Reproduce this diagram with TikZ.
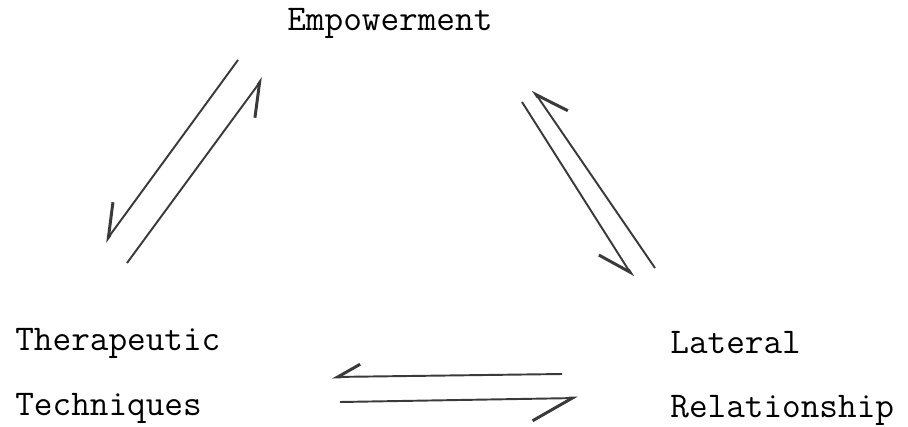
\documentclass[tikz,border=0pt]{standalone}
\usepackage{fontspec}
\usetikzlibrary{arrows.meta}
\definecolor{ink}{HTML}{3A3A3A}

\begin{document}
\begin{tikzpicture}[x=0.02cm, y=-0.02cm,
  label/.style={font=\ttfamily\fontsize{20.6}{24}\selectfont\addfontfeatures{FakeBold=0.8}, inner sep=0pt, anchor=base west},
  harp/.style={-{Straight Barb[right, length=#1, width=1.1*#1, line width=1.7pt]}, line width=1.1pt, color=ink},
  harp/.default=0.62cm]
\useasboundingbox (0,0) rectangle (908,426);
% concepts
\node[label] (emp) at (287,31) {Empowerment};
\node[label] (ther) at (15,350) {Therapeutic};
\node[label] (tech) at (15,415) {Techniques};
\node[label] (lat) at (670,353) {Lateral};
\node[label] (rel) at (670,417) {Relationship};
% ends of the arrows
\coordinate (a1) at (238,60);  \coordinate (b1) at (105,242);
\coordinate (a2) at (127,263); \coordinate (b2) at (263,78);
\coordinate (a3) at (522,102); \coordinate (b3) at (633,277);
\coordinate (a4) at (655,268); \coordinate (b4) at (533,90);
\coordinate (a5) at (562,374); \coordinate (b5) at (332,377);
\coordinate (a6) at (340,402); \coordinate (b6) at (578,398);
\draw[harp] (a1) -- (b1);
\draw[harp] (a2) -- (b2);
\draw[harp] (a3) -- (b3);
\draw[harp] (a4) -- (b4);
\draw[harp=0.45cm] (a5) -- (b5);
\draw[harp=0.8cm] (a6) -- (b6);
\end{tikzpicture}
\end{document}
